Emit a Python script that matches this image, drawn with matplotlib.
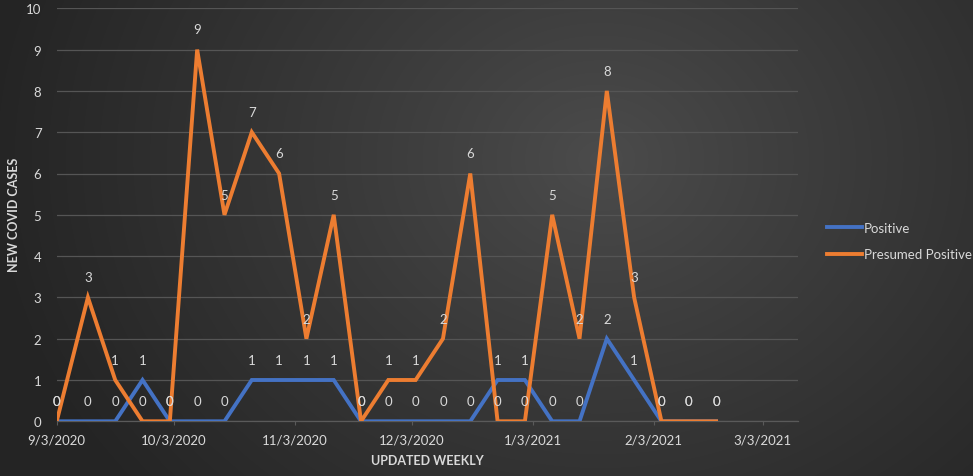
import numpy as np
import matplotlib
matplotlib.use("Agg")
import matplotlib.pyplot as plt
from datetime import datetime

plt.rcParams['font.family'] = ['Lato', 'DejaVu Sans']

dates = ["2020-09-03", "2020-09-11", "2020-09-18", "2020-09-25", "2020-10-02",
         "2020-10-09", "2020-10-16", "2020-10-23", "2020-10-30", "2020-11-06",
         "2020-11-13", "2020-11-20", "2020-11-27", "2020-12-04", "2020-12-11",
         "2020-12-18", "2020-12-25", "2021-01-01", "2021-01-08", "2021-01-15",
         "2021-01-22", "2021-01-29", "2021-02-05", "2021-02-12", "2021-02-19"]
positive = [0, 0, 0, 1, 0, 0, 0, 1, 1, 1, 1, 0, 0, 0, 0, 0, 1, 1, 0, 0, 2, 1, 0, 0, 0]
presumed = [0, 3, 1, 0, 0, 9, 5, 7, 6, 2, 5, 0, 1, 1, 2, 6, 0, 0, 5, 2, 8, 3, 0, 0, 0]
tick_dates = ["2020-09-03", "2020-10-03", "2020-11-03", "2020-12-03",
              "2021-01-03", "2021-02-03", "2021-03-03"]
tick_labels = ["9/3/2020", "10/3/2020", "11/3/2020", "12/3/2020",
               "1/3/2021", "2/3/2021", "3/3/2021"]
x_range = ["2020-09-03", "2021-03-12"]

W, H = 973, 477
fig = plt.figure(figsize=(W / 100, H / 100), dpi=100)

# radial gradient background
bg = fig.add_axes([0, 0, 1, 1], zorder=-10)
yy, xx = np.mgrid[0:H, 0:W]
d = np.sqrt(((xx - 600) / 620.0) ** 2 + ((yy - 160) / 520.0) ** 2)
d = np.clip(d, 0, 1)
c_in, c_out = 0x4c / 255, 0x24 / 255
img = c_in + (c_out - c_in) * d ** 0.9
bg.imshow(np.dstack([img, img, img]), aspect='auto', extent=[0, 1, 0, 1])
bg.axis('off')

ax = fig.add_axes([56.7 / W, 1 - 422.3 / H, (798 - 56.7) / W, (422.3 - 9.3) / H])
ax.patch.set_alpha(0)

xd = [datetime.strptime(s, "%Y-%m-%d") for s in dates]
blue = '#4472C4'
orange = '#ED7D31'
txt = '#D9D9D9'

ax.plot(xd, positive, color=blue, lw=2.8, solid_joinstyle='miter', label='Positive', zorder=3)
ax.plot(xd, presumed, color=orange, lw=2.8, solid_joinstyle='miter', label='Presumed Positive', zorder=4)

for x, v in zip(xd, positive):
    ax.annotate(str(v), (x, v), xytext=(0, 14.5), textcoords='offset points',
                ha='center', va='center', color=txt, fontsize=9.5, zorder=5)
for x, v in zip(xd, presumed):
    ax.annotate(str(v), (x, v), xytext=(0, 14.5), textcoords='offset points',
                ha='center', va='center', color=txt, fontsize=9.5, zorder=5)

ax.set_ylim(0, 10)
ax.set_yticks(range(0, 11))
ax.set_xlim(datetime.strptime(x_range[0], "%Y-%m-%d"), datetime.strptime(x_range[1], "%Y-%m-%d"))
ax.set_xticks([datetime.strptime(s, "%Y-%m-%d") for s in tick_dates])
ax.set_xticklabels(tick_labels)

ax.grid(axis='y', color='#555555', lw=0.9)
ax.set_axisbelow(True)
for s in ['top', 'right', 'left']:
    ax.spines[s].set_visible(False)
ax.spines['bottom'].set_color('#5a5a5a')
ax.spines['bottom'].set_linewidth(0.9)
ax.tick_params(axis='y', length=0, pad=11, colors=txt, labelsize=9.5)
ax.tick_params(axis='x', length=3, color='#5a5a5a', pad=6, colors=txt, labelsize=9.5)

fig.text(14 / W, 1 - 215 / H, 'NEW COVID CASES', rotation=90, ha='center', va='center',
         color=txt, fontsize=9, fontweight='bold')
ax.set_xlabel('UPDATED WEEKLY', color=txt, fontsize=9, fontweight='bold', labelpad=6)

leg = ax.legend(loc='center left', bbox_to_anchor=(820 / W, 1 - 242 / H),
                bbox_transform=fig.transFigure, frameon=False, borderpad=0,
                fontsize=9.5, handlelength=2.7, handletextpad=0.15, labelspacing=1.1)
for t in leg.get_texts():
    t.set_color(txt)

fig.savefig('out.png', dpi=100)
